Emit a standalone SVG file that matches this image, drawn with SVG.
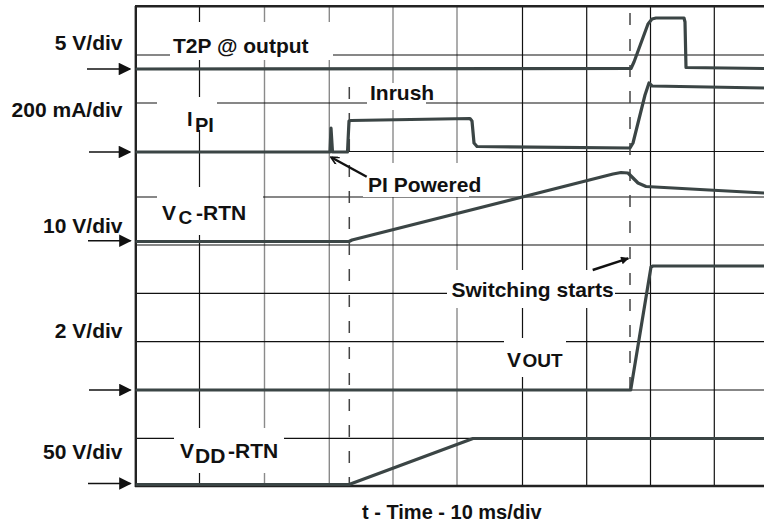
<svg xmlns="http://www.w3.org/2000/svg" width="764" height="523" viewBox="0 0 764 523">
<style>
.grid{stroke:#111;stroke-width:1.2;fill:none}
.gridg{stroke:#8a8a8a;stroke-width:1.4;fill:none}
.frame{stroke:#222;stroke-width:2.4;fill:none}
.trace{stroke:#3b4545;stroke-width:3.2;fill:none;stroke-linejoin:round;stroke-linecap:round}
.dash{stroke:#444;stroke-width:1.5;stroke-dasharray:12 14;fill:none}
.bg{fill:#fff}
.lbl{font-family:"Liberation Sans",Arial,sans-serif;font-weight:bold;font-size:21px;fill:#111}
.ax{stroke:#111;stroke-width:1.6;fill:none}
</style>
<defs>
<marker id="tri" viewBox="0 0 10 10" refX="9" refY="5" markerWidth="13" markerHeight="12.6" markerUnits="userSpaceOnUse" orient="auto">
<path d="M0,0 L10,5 L0,10 Z" fill="#111"/>
</marker>
<marker id="tri2" viewBox="0 0 10 10" refX="9" refY="5" markerWidth="11" markerHeight="8" markerUnits="userSpaceOnUse" orient="auto">
<path d="M0,0 L10,5 L0,10 Z" fill="#111"/>
</marker>
<marker id="vee" viewBox="0 0 10 10" refX="9" refY="5" markerWidth="10" markerHeight="8" markerUnits="userSpaceOnUse" orient="auto">
<path d="M0,0 L10,5 L0,10" fill="none" stroke="#111" stroke-width="2"/>
</marker>
</defs>
<rect width="764" height="523" fill="#fff"/>
<g id="grid">
<line class="grid" x1="199.5" y1="7" x2="199.5" y2="486"/>
<line class="gridg" x1="264.5" y1="7" x2="264.5" y2="486"/>
<line class="gridg" x1="329.3" y1="7" x2="329.3" y2="486"/>
<line class="gridg" x1="393" y1="7" x2="393" y2="486"/>
<line class="gridg" x1="457" y1="7" x2="457" y2="486"/>
<line class="grid" x1="522.5" y1="7" x2="522.5" y2="486"/>
<line class="grid" x1="586.7" y1="7" x2="586.7" y2="486"/>
<line class="grid" x1="650.5" y1="7" x2="650.5" y2="486"/>
<line class="grid" x1="714.3" y1="7" x2="714.3" y2="486"/>
<line class="grid" x1="136" y1="55" x2="764" y2="55"/>
<line class="grid" x1="136" y1="103" x2="764" y2="103"/>
<line class="grid" x1="136" y1="151.5" x2="764" y2="151.5"/>
<line class="grid" x1="136" y1="197" x2="764" y2="197"/>
<line class="grid" x1="136" y1="245" x2="764" y2="245"/>
<line class="grid" x1="136" y1="293.3" x2="764" y2="293.3"/>
<line class="grid" x1="136" y1="341.7" x2="764" y2="341.7"/>
<line class="grid" x1="136" y1="390" x2="764" y2="390"/>
<line class="grid" x1="136" y1="438.3" x2="764" y2="438.3"/>
</g>
<g id="label-backgrounds">
<rect class="bg" x="170" y="22" width="163" height="38"/>
<rect class="bg" x="157" y="97" width="60" height="33"/>
<rect class="bg" x="367" y="83" width="59" height="27"/>
<rect class="bg" x="363" y="163" width="106" height="34"/>
<rect class="bg" x="157" y="187" width="106" height="48"/>
<rect class="bg" x="447" y="270" width="168" height="38"/>
<rect class="bg" x="504" y="338" width="62" height="39"/>
<rect class="bg" x="174" y="428" width="110" height="45"/>
</g>
<g id="frame">
<line class="frame" x1="135" y1="6.3" x2="764" y2="6.3"/>
<line class="frame" x1="135.8" y1="6" x2="135.8" y2="487"/>
<line class="frame" x1="135" y1="486" x2="764" y2="486"/>
</g>
<g id="markers">
<line class="dash" x1="349.3" y1="87" x2="349.3" y2="486"/>
<line class="dash" x1="630" y1="13" x2="630" y2="400"/>
</g>
<g id="traces">
<path id="t2p" class="trace" d="M137,69 L631,68.5 L634,62 L648,24 L652,19 L656,18 L684,18 L685,22 L686,67.5 L764,68.5"/>
<path id="ipi" class="trace" d="M137,152 L330,152 L331,128 L332.5,152 L347.5,152 L349,121 L351,120.5 L470,118.5 L472,121 L474,143 L477,146.5 L630,148 L633,143 L645,95 L649,83 L652,86 L764,88"/>
<path id="vc" class="trace" d="M137,241.5 L349,241.5 L352,240 L613,174 L621,172.5 L628,173 L632,177 L638,183 L646,186.5 L700,189.5 L764,193"/>
<path id="vout" class="trace" d="M137,390 L630.7,390 L651,267 L653,266 L764,266"/>
<path id="vdd" class="trace" d="M137,484.5 L349,484.5 L473,438.5 L764,438.5"/>
</g>
<g id="axis-arrows">
<line class="ax" x1="87" y1="69" x2="130" y2="69" marker-end="url(#tri)"/>
<line class="ax" x1="89" y1="152" x2="130" y2="152" marker-end="url(#tri)"/>
<line class="ax" x1="88" y1="240.7" x2="130.5" y2="240.7" marker-end="url(#tri)"/>
<line class="ax" x1="89" y1="390" x2="130.5" y2="390" marker-end="url(#tri)"/>
<line class="ax" x1="88" y1="483.5" x2="130.5" y2="483.5" marker-end="url(#tri)"/>
</g>
<g id="annotation-arrows">
<line x1="366.7" y1="176.7" x2="331.5" y2="157.5" stroke="#111" stroke-width="2.4" marker-end="url(#vee)"/>
<line x1="592.7" y1="270" x2="628.3" y2="258.3" stroke="#111" stroke-width="2.4" marker-end="url(#tri2)"/>
</g>
<g id="scale-labels" class="lbl" text-anchor="end">
<text x="122.5" y="50">5 V/div</text>
<text x="122.5" y="117">200 mA/div</text>
<text x="122.5" y="233">10 V/div</text>
<text x="122.5" y="338">2 V/div</text>
<text x="122.5" y="459">50 V/div</text>
</g>
<g id="trace-labels" class="lbl">
<text x="173" y="52.5">T2P @ output</text>
<text x="187" y="126" font-size="20">I<tspan x="195" y="132">PI</tspan></text>
<text x="370" y="100">Inrush</text>
<text x="368" y="191.7">PI Powered</text>
<text x="162" y="219.5">V<tspan x="178.5" y="223.5" font-size="19">C</tspan><tspan x="196" y="219.5">-RTN</tspan></text>
<text x="451.5" y="296.7">Switching starts</text>
<text x="507" y="367">V<tspan x="522.5" font-size="19">OUT</tspan></text>
<text x="180" y="458.3">V<tspan x="195" y="463.3">DD</tspan><tspan x="228" y="458.3">-RTN</tspan></text>
<text x="362" y="519" font-size="20">t - Time - 10 ms/div</text>
</g>
</svg>
